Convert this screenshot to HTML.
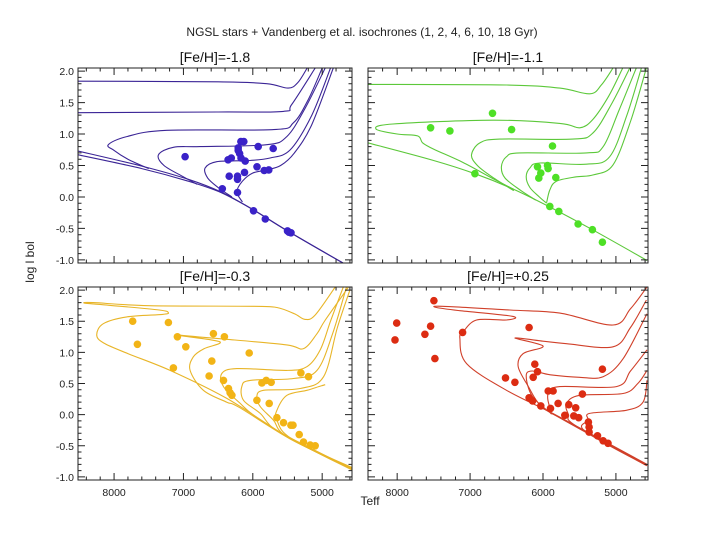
<!DOCTYPE html>
<html><head><meta charset="utf-8"><style>
body{margin:0;background:#fff;}
svg{display:block;font-family:"Liberation Sans",sans-serif;}
</style></head><body>
<svg id="chart" width="720" height="540" viewBox="0 0 720 540" xmlns="http://www.w3.org/2000/svg">
<text x="362" y="36" font-size="12" text-anchor="middle" fill="#222">NGSL stars + Vandenberg et al. isochrones (1, 2, 4, 6, 10, 18 Gyr)</text>
<text x="0" y="0" font-size="12" text-anchor="middle" fill="#222" transform="translate(34,262) rotate(-90)">log l bol</text>
<text x="370" y="505" font-size="12" text-anchor="middle" fill="#222">Teff</text>
</svg>
<script>
// ---- data ----
const yTicks = [2.0, 1.5, 1.0, 0.5, 0.0, -0.5, -1.0];
const yTickLabels = ["2.0","1.5","1.0","0.5","0.0","-0.5","-1.0"];
const xTicks = [8000, 7000, 6000, 5000];
const xTickLabels = ["8000","7000","6000","5000"];
const panelTitles = ["[Fe/H]=-1.8","[Fe/H]=-1.1","[Fe/H]=-0.3","[Fe/H]=+0.25"];

const p1StarTeff = [6976,6172,6130,6210,6210,6190,6356,6310,6170,6110,5922,5706,5940,5836,5770,6340,6220,6220,6120,6440,6220,5990,5820,5500,5450,5480];
const p1StarLogL = [0.64,0.88,0.88,0.78,0.74,0.69,0.59,0.62,0.62,0.57,0.80,0.77,0.48,0.42,0.43,0.33,0.33,0.28,0.39,0.13,0.07,-0.22,-0.35,-0.54,-0.57,-0.56];
const p1Iso = [
 [[4700,-1.05],[5500,-0.54],[6000,-0.2],[6460,0.08],[6930,0.28],[7600,0.49],[8520,0.73]],
 [[4700,-1.05],[5500,-0.54],[6000,-0.2],[6460,0.07],[6930,0.25],[7600,0.45],[8520,0.67]],
 [[8520,1.84],[6500,1.83],[5800,1.80],[5490,1.73],[5350,1.82],[5216,2.05]],
 [[8520,1.34],[6500,1.35],[5560,1.36],[5440,1.47],[5100,2.05]],
 [[7500,0.45],[7800,0.60],[8000,0.74],[8083,0.83],[7818,0.96],[7240,1.06],[5700,1.07],[5413,1.18],[5200,1.55],[5000,2.05]],
 [[6800,0.20],[7000,0.32],[7280,0.50],[7360,0.67],[7145,0.79],[6760,0.80],[5800,0.83],[5510,0.96],[5250,1.4],[4956,2.05]],
 [[6300,0.0],[6500,0.15],[6650,0.30],[6687,0.46],[6520,0.56],[6040,0.58],[5750,0.62],[5460,0.75],[5150,1.3],[4880,2.05]],
 [[6150,-0.08],[6230,0.08],[6150,0.25],[6000,0.38],[5800,0.43],[5600,0.50],[5400,0.70],[5150,1.15],[4840,2.05]]
];
const p2StarTeff = [6692,7541,7277,6431,5870,6934,6075,5938,5930,6030,6057,5824,5907,5783,5519,5322,5185];
const p2StarLogL = [1.33,1.10,1.05,1.07,0.81,0.37,0.48,0.50,0.45,0.38,0.30,0.31,-0.15,-0.23,-0.43,-0.52,-0.72];
const p2Iso = [
 [[4573,-1.01],[5322,-0.52],[5907,-0.16],[6400,0.12],[6934,0.37],[7500,0.58],[8400,0.86]],
 [[8400,1.79],[6500,1.78],[5770,1.73],[5359,1.64],[5200,1.78],[5040,2.05]],
 [[6400,0.12],[6700,0.30],[7100,0.55],[7500,0.76],[7650,0.86],[7720,0.97],[8000,1.00],[8290,1.08],[8057,1.16],[6688,1.22],[5770,1.17],[5496,1.10],[5318,1.23],[5100,1.6],[4907,2.05]],
 [[6400,0.10],[6700,0.32],[6900,0.50],[6980,0.67],[6866,0.86],[6592,0.92],[5592,0.92],[5313,1.02],[5050,1.5],[4810,2.05]],
 [[6100,-0.05],[6300,0.10],[6520,0.30],[6570,0.48],[6500,0.64],[6318,0.70],[5405,0.70],[5175,0.80],[4950,1.4],[4720,2.05]],
 [[5950,-0.10],[6050,0.0],[6180,0.15],[6231,0.32],[6180,0.46],[6043,0.54],[5405,0.52],[5085,0.64],[4850,1.3],[4650,2.05]],
 [[5950,-0.09],[5907,0.11],[5816,0.25],[5542,0.32],[5310,0.35],[5040,0.51],[4800,1.2],[4582,2.05]]
];
const p3StarTeff = [7731,7664,7217,7087,6966,7145,6568,6409,6591,6630,6423,6351,6327,6302,6052,5869,5807,5735,5941,5764,5653,5558,5451,5420,5306,5197,5331,5269,5172,5100];
const p3StarLogL = [1.50,1.13,1.48,1.25,1.09,0.75,1.30,1.25,0.86,0.62,0.55,0.42,0.35,0.31,0.99,0.51,0.55,0.52,0.23,0.18,-0.05,-0.13,-0.17,-0.17,0.67,0.61,-0.32,-0.44,-0.49,-0.50];
const p3Iso = [
 [[4570,-0.85],[5413,-0.41],[6375,0.26],[7192,0.71],[7800,0.98],[8150,1.15],[8250,1.28],[8155,1.46],[7817,1.57],[7300,1.61],[7220,1.64],[7350,1.68],[8100,1.76],[8419,1.79],[8300,1.80],[7500,1.75],[6000,1.74],[5653,1.72],[5400,1.62],[5245,1.53],[5100,1.6],[4812,2.05]],
 [[4570,-0.86],[5413,-0.42],[6200,0.12],[6375,0.20],[6712,0.39],[6904,0.71],[6856,0.93],[6700,1.06],[6471,1.15],[6600,1.20],[7120,1.28],[6800,1.25],[6375,1.21],[5508,1.12],[5269,1.06],[5075,1.30],[4955,1.52],[4620,2.05]],
 [[4570,-0.87],[5600,-0.29],[6000,0.0],[6182,0.18],[6423,0.45],[6447,0.66],[6230,0.74],[5508,0.71],[5220,0.77],[5028,1.04],[4880,1.5],[4696,2.05]],
 [[4570,-0.88],[5600,-0.30],[5894,0.02],[6134,0.23],[6158,0.45],[6038,0.55],[5413,0.58],[5075,0.71],[4850,1.3],[4650,2.05]],
 [[4570,-0.88],[5500,-0.36],[5702,-0.09],[5894,0.13],[5942,0.29],[5846,0.39],[5317,0.42],[4980,0.61],[4780,1.4],[4600,2.0]],
 [[4570,-0.89],[5450,-0.38],[5653,-0.09],[5653,0.07],[5508,0.31],[5220,0.39],[5050,0.45],[4956,0.48]]
];
const p4StarTeff = [7496,8007,8030,7619,7541,7482,7103,6190,6514,6386,6112,6075,6135,5929,5861,6190,6143,6030,5897,5793,5701,5646,5552,5578,5510,5459,5185,5377,5368,5368,5253,5176,5108];
const p4StarLogL = [1.83,1.47,1.20,1.29,1.42,0.90,1.32,1.40,0.59,0.52,0.81,0.69,0.60,0.38,0.38,0.27,0.22,0.14,0.10,0.18,-0.01,0.16,0.11,-0.02,-0.05,0.33,0.73,-0.12,-0.20,-0.28,-0.34,-0.42,-0.46];
const p4Iso = [
 [[4574,-0.80],[5770,-0.04],[6500,0.39],[7048,0.82],[7140,1.22],[7094,1.33],[6911,1.52],[6500,1.52],[6420,1.58],[7140,1.67],[7459,1.72],[7380,1.74],[6455,1.68],[5770,1.63],[5040,1.44],[4800,1.7],[4574,2.05]],
 [[4574,-0.81],[5770,-0.05],[6044,0.16],[6200,0.45],[6340,0.77],[6272,0.98],[5998,1.10],[6386,1.23],[6000,1.18],[5678,1.14],[5040,1.09],[4800,1.4],[4582,1.84]],
 [[4574,-0.81],[5770,-0.05],[5900,0.03],[6150,0.30],[6230,0.62],[6150,0.70],[5900,0.64],[5500,0.60],[5176,0.61],[4900,0.9],[4574,1.62]],
 [[4574,-0.82],[5800,-0.03],[5900,0.10],[5929,0.34],[5770,0.45],[4993,0.45],[4800,0.7],[4574,1.04]],
 [[4574,-0.82],[5550,-0.18],[5650,0.0],[5678,0.18],[5496,0.31],[4903,0.34],[4700,0.5],[4574,0.71]],
 [[4574,-0.82],[5420,-0.27],[5380,-0.09],[5359,0.02],[4857,0.07],[4628,0.20],[4574,0.55]]
];

// ---- layout ----
const NS = "http://www.w3.org/2000/svg";
const svg = document.getElementById("chart");
const panels = [
 {x0:78,x1:352,y0:68,y1:263,tMax:8520,tMin:4570,star:"#3a22c8",line:"#3b2596",starsT:p1StarTeff,starsL:p1StarLogL,iso:p1Iso,yLab:true,xLab:false},
 {x0:368,x1:648,y0:68,y1:263,tMax:8400,tMin:4560,star:"#4ee026",line:"#5cc83a",starsT:p2StarTeff,starsL:p2StarLogL,iso:p2Iso,yLab:false,xLab:false},
 {x0:78,x1:352,y0:287,y1:480,tMax:8520,tMin:4570,star:"#f2b416",line:"#e8b528",starsT:p3StarTeff,starsL:p3StarLogL,iso:p3Iso,yLab:true,xLab:true},
 {x0:368,x1:648,y0:287,y1:480,tMax:8400,tMin:4560,star:"#dc2c12",line:"#d0402a",starsT:p4StarTeff,starsL:p4StarLogL,iso:p4Iso,yLab:false,xLab:true}
];
const L_MAX = 2.05, L_MIN = -1.05;
function mk(tag, attrs){const e=document.createElementNS(NS,tag);for(const k in attrs)e.setAttribute(k,attrs[k]);return e;}
function smoothPath(P){
  let d = "M"+P[0][0].toFixed(1)+","+P[0][1].toFixed(1);
  for(let i=0;i<P.length-1;i++){
    const p0=P[Math.max(0,i-1)], p1=P[i], p2=P[i+1], p3=P[Math.min(P.length-1,i+2)];
    const c1=[p1[0]+(p2[0]-p0[0])/6, p1[1]+(p2[1]-p0[1])/6];
    const c2=[p2[0]-(p3[0]-p1[0])/6, p2[1]-(p3[1]-p1[1])/6];
    d += "C"+c1[0].toFixed(1)+","+c1[1].toFixed(1)+" "+c2[0].toFixed(1)+","+c2[1].toFixed(1)+" "+p2[0].toFixed(1)+","+p2[1].toFixed(1);
  }
  return d;
}

panels.forEach((p,i)=>{
  const xs = t => p.x0 + (p.tMax - t)/(p.tMax - p.tMin)*(p.x1-p.x0);
  const ys = l => p.y0 + (L_MAX - l)/(L_MAX - L_MIN)*(p.y1-p.y0);
  const g = mk("g",{});
  
  
  svg.appendChild(g);
  const defs = mk("defs",{});
  const cp = mk("clipPath",{id:"clip"+i});
  cp.appendChild(mk("rect",{x:p.x0,y:p.y0,width:p.x1-p.x0,height:p.y1-p.y0}));
  defs.appendChild(cp); g.appendChild(defs);
  const tt = mk("text",{x:(p.x0+p.x1)/2,y:p.y0-6,"font-size":"14","text-anchor":"middle",fill:"#111"});
  tt.textContent = panelTitles[i];
  
  
  g.appendChild(tt);
  const lg = mk("g",{"clip-path":"url(#clip"+i+")"});
  g.appendChild(lg);
  p.iso.forEach((pts,k)=>{
    const P = pts.map(q=>[xs(q[0]), ys(q[1])]);
    const path = mk("path",{d:smoothPath(P),fill:"none",stroke:p.line,"stroke-width":"1.1","stroke-linejoin":"round"});
    
    
    lg.appendChild(path);
  });
  p.starsT.forEach((t,k)=>{
    const c = mk("circle",{cx:xs(t).toFixed(1),cy:ys(p.starsL[k]).toFixed(1),r:"3.8",fill:p.star});
    
    
    lg.appendChild(c);
  });
  const fr = mk("rect",{x:p.x0,y:p.y0,width:p.x1-p.x0,height:p.y1-p.y0,fill:"none",stroke:"#222","stroke-width":"1"});
  
  
  g.appendChild(fr);
  let td = "";
  for(let v=-10; v<=20; v++){
    const l = v/10; if(l<L_MIN||l>L_MAX) continue;
    const y = ys(l); const len = (v%5===0)?7:3.5;
    td += `M${p.x0},${y}h${len}M${p.x1},${y}h${-len}`;
  }
  for(let t=4600; t<=8400; t+=200){
    if(t>p.tMax||t<p.tMin) continue;
    const x = xs(t); const len = (t%1000===0)?7:3.5;
    td += `M${x},${p.y0}v${len}M${x},${p.y1}v${-len}`;
  }
  const tk = mk("path",{d:td,stroke:"#222","stroke-width":"1",fill:"none"});
  
  
  g.appendChild(tk);
  if(p.yLab){
    yTicks.forEach((l,k)=>{
      const t = mk("text",{x:p.x0-4,y:ys(l)+4,"font-size":"10.5","text-anchor":"end",fill:"#222"});
      t.textContent = yTickLabels[k];
      
      
      g.appendChild(t);
    });
  }
  if(p.xLab){
    xTicks.forEach((v,k)=>{
      const t = mk("text",{x:xs(v),y:p.y1+16,"font-size":"10.5","text-anchor":"middle",fill:"#222"});
      t.textContent = xTickLabels[k];
      
      
      g.appendChild(t);
    });
  }
});
</script>
</body></html>
